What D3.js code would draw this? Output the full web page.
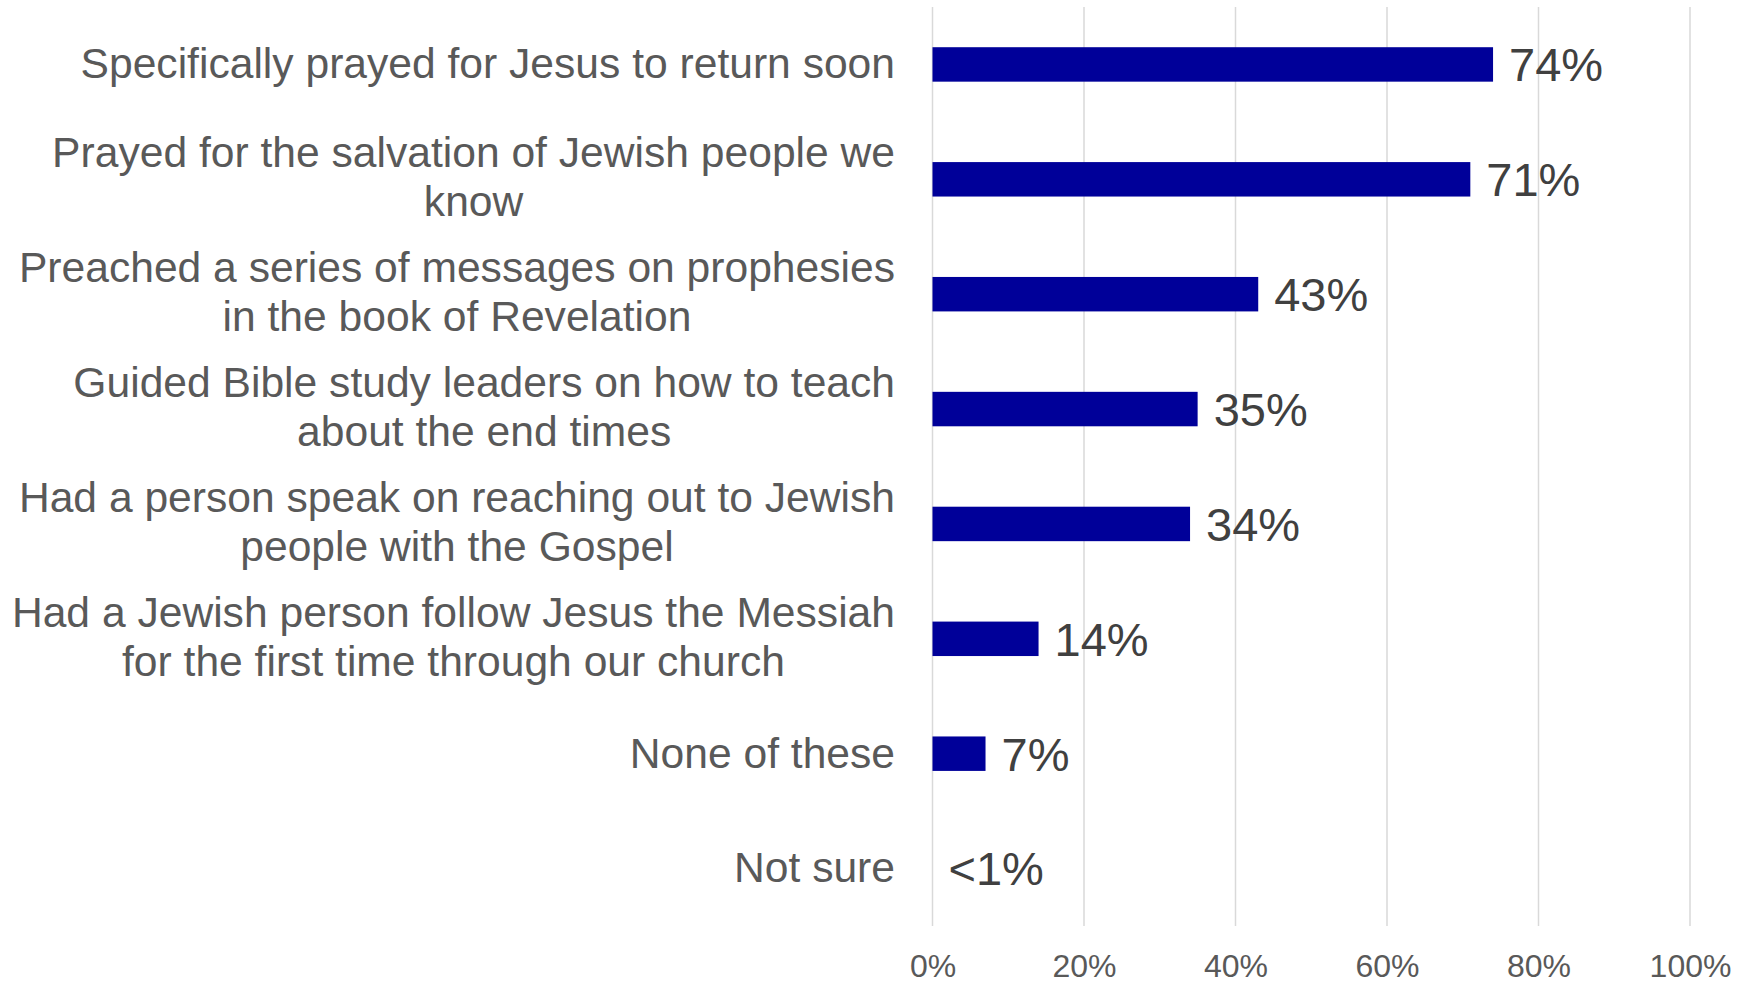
<!DOCTYPE html>
<html>
<head>
<meta charset="utf-8">
<script src="https://cdn.jsdelivr.net/npm/d3@7"></script>
<style>
  html, body { margin: 0; padding: 0; background: #ffffff; }
  svg { display: block; }
</style>
</head>
<body>
<svg id="chart" width="1749" height="983"></svg>
<script>
const categories = [
  "Specifically prayed for Jesus to return soon",
  "Prayed for the salvation of Jewish people we\nknow",
  "Preached a series of messages on prophesies\nin the book of Revelation",
  "Guided Bible study leaders on how to teach\nabout the end times",
  "Had a person speak on reaching out to Jewish\npeople with the Gospel",
  "Had a Jewish person follow Jesus the Messiah\nfor the first time through our church",
  "None of these",
  "Not sure"
];
const values = [74, 71, 43, 35, 34, 14, 7, 0];
const valueLabels = ["74%", "71%", "43%", "35%", "34%", "14%", "7%", "<1%"];
const tickValues = [0, 20, 40, 60, 80, 100];
const tickLabels = ["0%", "20%", "40%", "60%", "80%", "100%"];

(function () {
const svg = d3.select("#chart");
const mLeft = 932.5, mRight = 1690, mTop = 7, mBottom = 926;
const font = "'Liberation Sans', Arial, sans-serif";

const x = d3.scaleLinear().domain([0, 100]).range([mLeft, mRight]);
const y = d3.scaleBand().domain(categories).range([mTop, mBottom])
  .paddingInner(0.7).paddingOuter(0.35);

// gridlines
svg.append("g").selectAll("line").data(tickValues).join("line")
  .attr("x1", d => x(d)).attr("x2", d => x(d))
  .attr("y1", mTop).attr("y2", mBottom)
  .attr("stroke", "#d9d9d9").attr("stroke-width", 1.5);

// x axis tick labels
const xAxis = d3.axisBottom(x).tickValues(tickValues)
  .tickFormat((d, i) => tickLabels[i]).tickSize(0).tickPadding(0);
const gx = svg.append("g").attr("transform", `translate(0,${mBottom + 28})`).call(xAxis);
gx.select(".domain").remove();
gx.selectAll("text").attr("font-family", font).attr("font-size", 32)
  .attr("fill", "#595959");

// bars
svg.append("g").selectAll("rect").data(values).join("rect")
  .attr("x", x(0))
  .attr("y", (d, i) => y(categories[i]))
  .attr("width", d => x(d) - x(0))
  .attr("height", y.bandwidth())
  .attr("fill", "#000099");

// value labels
svg.append("g").selectAll("text").data(values).join("text")
  .attr("x", d => x(d) + 16)
  .attr("y", (d, i) => y(categories[i]) + y.bandwidth() / 2)
  .attr("dy", "0.36em")
  .attr("font-family", font).attr("font-size", 47)
  .attr("fill", "#404040")
  .text((d, i) => valueLabels[i]);

// category labels
const lineH = 49;
const cat = svg.append("g").selectAll("text").data(categories).join("text")
  .attr("font-family", font).attr("font-size", 42.6)
  .attr("fill", "#595959")
  .attr("text-anchor", "middle");
cat.each(function(d) {
  const lines = d.split("\n");
  const t = d3.select(this);
  const cy = y(d) + y.bandwidth() / 2 - (lines.length > 1 ? 3 : 1.5);
  const y0 = cy - (lines.length - 1) * lineH / 2;
  const spans = lines.map(l => t.append("tspan").text(l));
  const widths = spans.map(s => s.node().getComputedTextLength());
  const maxW = d3.max(widths);
  const blockRight = 895;
  const cx = blockRight - maxW / 2;
  spans.forEach((s, i) => {
    s.attr("x", cx).attr("y", y0 + i * lineH).attr("dy", "0.36em");
  });
});
})();
</script>
</body>
</html>
